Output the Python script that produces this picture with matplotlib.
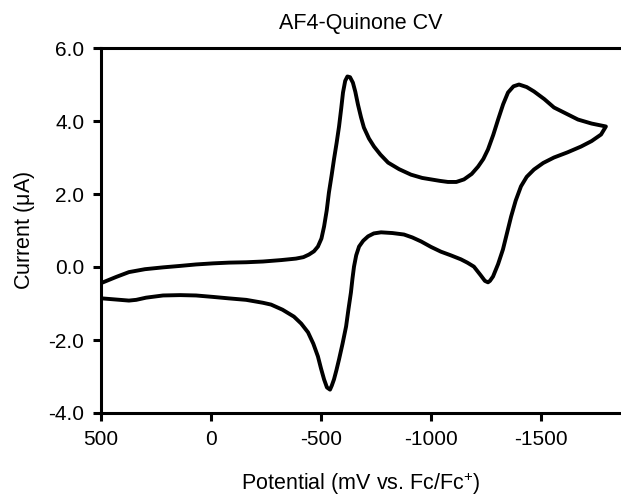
import numpy as np
import matplotlib
matplotlib.use('Agg')
import matplotlib.pyplot as plt

plt.rcParams['font.family'] = ['Liberation Sans', 'DejaVu Sans']
plt.rcParams['axes.unicode_minus'] = False
plt.rcParams['mathtext.default'] = 'regular'

# forward scan (500 -> -1795 mV)
fwd_mv = [495, 430, 373, 300, 218, 140, 68, -10, -82, -160, -236, -320, -386, -420, -445,
          -468, -486, -502, -514, -526, -536, -548, -559, -571, -582, -592, -600, -610,
          -620, -632, -645, -656, -668, -682, -695, -718, -741, -770, -805, -855, -909,
          -960, -1000, -1040, -1077, -1115, -1150, -1185, -1214, -1238, -1259, -1283,
          -1305, -1328, -1350, -1375, -1400, -1435, -1468, -1515, -1559, -1615, -1668,
          -1730, -1795]
fwd_ua = [-0.43, -0.27, -0.14, -0.06, -0.01, 0.03, 0.07, 0.10, 0.12, 0.13, 0.15, 0.19, 0.23,
          0.27, 0.34, 0.43, 0.56, 0.78, 1.11, 1.55, 2.04, 2.50, 2.95, 3.40, 3.85, 4.35, 4.78,
          5.10, 5.22, 5.20, 5.05, 4.80, 4.45, 4.10, 3.82, 3.52, 3.30, 3.08, 2.86, 2.68, 2.53,
          2.44, 2.40, 2.36, 2.33, 2.33, 2.40, 2.55, 2.75, 2.96, 3.22, 3.62, 4.04, 4.46, 4.78,
          4.95, 5.00, 4.93, 4.81, 4.60, 4.37, 4.20, 4.04, 3.93, 3.85]

# reverse scan (-1795 -> 500 mV)
rev_mv = [-1795, -1773, -1730, -1682, -1620, -1559, -1510, -1468, -1435, -1409, -1385,
          -1364, -1345, -1327, -1305, -1282, -1268, -1259, -1245, -1225, -1195, -1165,
          -1136, -1090, -1045, -1000, -955, -915, -877, -825, -773, -740, -714, -692, -673,
          -660, -650, -643, -636, -625, -614, -598, -582, -570, -559, -549, -541, -527,
          -514, -500, -486, -465, -441, -410, -377, -325, -273, -236, -160, -82, -10, 68,
          140, 218, 295, 340, 373, 432, 495]
rev_ua = [3.85, 3.63, 3.45, 3.30, 3.14, 3.00, 2.85, 2.67, 2.47, 2.21, 1.82, 1.38, 0.92,
          0.48, 0.08, -0.26, -0.38, -0.42, -0.38, -0.22, 0.01, 0.12, 0.21, 0.32, 0.42, 0.55,
          0.70, 0.81, 0.89, 0.93, 0.95, 0.92, 0.84, 0.72, 0.56, 0.32, 0.01, -0.32, -0.70,
          -1.15, -1.63, -2.10, -2.53, -2.83, -3.08, -3.25, -3.36, -3.30, -3.08, -2.78,
          -2.45, -2.10, -1.79, -1.55, -1.36, -1.17, -1.03, -0.98, -0.90, -0.86, -0.82,
          -0.78, -0.77, -0.78, -0.84, -0.90, -0.92, -0.89, -0.86]

fig = plt.figure(figsize=(6.21, 4.99), dpi=100)
ax = fig.add_axes([101/621, 86/499, 520/621, 365/499])

ax.plot(fwd_mv + rev_mv, fwd_ua + rev_ua, color='black', linewidth=2.8,
        solid_joinstyle='round', solid_capstyle='round')

ax.set_xlim(500, 500 - 520/0.22)
ax.set_ylim(-4, 6)
ax.set_xticks([500, 0, -500, -1000, -1500])
ax.set_yticks(np.arange(-4, 6.1, 2))
ax.set_yticklabels(['%.1f' % v for v in np.arange(-4, 6.1, 2)])

for s in ['left', 'bottom', 'top']:
    ax.spines[s].set_linewidth(2.2)
ax.spines['right'].set_visible(False)
ax.tick_params(direction='out', length=6, width=2.2, labelsize=15, pad=6)

ax.set_title('AF4-Quinone CV', fontsize=15.5, pad=14)
ax.set_xlabel(r'Potential (mV vs. Fc/Fc$^{+}$)', fontsize=15.5, labelpad=16)
ax.set_ylabel(r'Current ($\mu$A)', fontsize=15.5, labelpad=8)

fig.savefig('out.png', dpi=100)
